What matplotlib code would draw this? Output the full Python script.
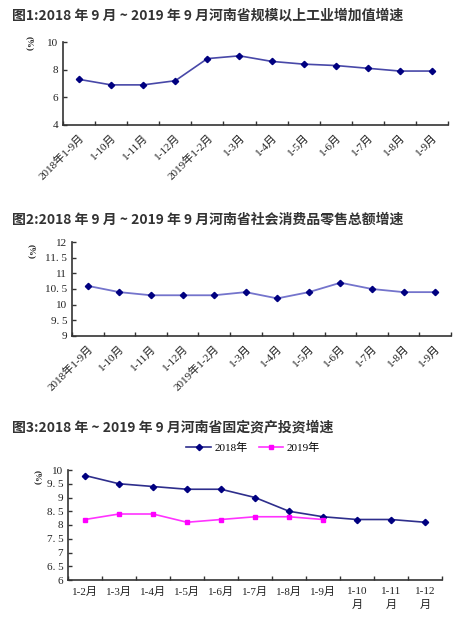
import matplotlib
matplotlib.use("Agg")
import matplotlib.pyplot as plt
from matplotlib.ticker import FixedLocator

# ---- datos ----
meses1 = ["2018年1-9月", "1-10月", "1-11月", "1-12月", "2019年1-2月", "1-3月",
          "1-4月", "1-5月", "1-6月", "1-7月", "1-8月", "1-9月"]
industria = [7.3, 6.9, 6.9, 7.2, 8.8, 9.0, 8.6, 8.4, 8.3, 8.1, 7.9, 7.9]
consumo = [10.6, 10.4, 10.3, 10.3, 10.3, 10.4, 10.2, 10.4, 10.7, 10.5, 10.4, 10.4]

meses3 = ["1-2月", "1-3月", "1-4月", "1-5月", "1-6月", "1-7月", "1-8月", "1-9月",
          "1-10\n月", "1-11\n月", "1-12\n月"]
inversion_2018 = [9.8, 9.5, 9.4, 9.3, 9.3, 9.0, 8.5, 8.3, 8.2, 8.2, 8.1]
inversion_2019 = [8.2, 8.4, 8.4, 8.1, 8.2, 8.3, 8.3, 8.2]

titulos = ["图1:2018 年 9 月 ~ 2019 年 9 月河南省规模以上工业增加值增速",
           "图2:2018 年 9 月 ~ 2019 年 9 月河南省社会消费品零售总额增速",
           "图3:2018 年 ~ 2019 年 9 月河南省固定资产投资增速"]

serif = ["Liberation Serif", "Noto Sans CJK SC"]
sans = ["Noto Sans CJK SC", "DejaVu Sans"]
gris = "#333333"
tam = 8

fig = plt.figure(figsize=(4.59, 6.17), dpi=100)
W, H = 459, 617


def ejes(izq, der, arriba, abajo):
    ax = fig.add_axes([izq / W, 1 - abajo / H, (der - izq) / W, (abajo - arriba) / H])
    for s in ["top", "right"]:
        ax.spines[s].set_visible(False)
    for s in ["left", "bottom"]:
        ax.spines[s].set_color(gris)
        ax.spines[s].set_linewidth(1.2)
    ax.tick_params(direction="in", length=3, width=1, color=gris, labelsize=tam)
    return ax


def categorias(ax, etiquetas, rot):
    n = len(etiquetas)
    ax.set_xlim(-0.5, n - 0.5)
    ax.xaxis.set_major_locator(FixedLocator([i - 0.5 for i in range(n + 1)]))
    ax.set_xticklabels([])
    ax.xaxis.set_minor_locator(FixedLocator(list(range(n))))
    ax.tick_params(axis="x", which="minor", length=0)
    if rot:
        ax.set_xticklabels(etiquetas, minor=True, rotation=45, ha="right",
                           rotation_mode="anchor", family=serif, fontsize=tam,
                           color="#222222")
    else:
        ax.set_xticklabels(etiquetas, minor=True, family=serif, fontsize=tam,
                           va="top", linespacing=1.5, color="#222222")
    ax.tick_params(axis="x", which="minor", pad=5)


def yticks(ax, valores, textos):
    ax.set_ylim(valores[0], valores[-1])
    ax.set_yticks(valores)
    ax.set_yticklabels(textos, family=serif, fontsize=tam, color="#222222")


def titulo(y, texto):
    fig.text(12 / W, 1 - y / H, texto, family=sans, fontsize=10, color=gris,
             va="center", weight="bold")


def unidad(x, y):
    fig.text(x / W, 1 - y / H, "(%)", family=serif, fontsize=6.5, rotation=-90,
             va="center", ha="center", color="#222222", weight="bold")


# ---- grafico 1 ----
ax1 = ejes(63, 448, 42, 125)
x = list(range(len(meses1)))
ax1.plot(x, industria, color="#4848a8", lw=1.2, marker="D", ms=3.2,
         mfc="#000080", mec="#000080")
categorias(ax1, meses1, True)
yticks(ax1, [4, 6, 8, 10], ["4", "6", "8", "10"])
titulo(16, titulos[0])
unidad(29, 44)

# ---- grafico 2 ----
ax2 = ejes(72, 451, 242, 336)
ax2.plot(x, consumo, color="#7474cc", lw=1.3, marker="D", ms=3.2,
         mfc="#000080", mec="#000080")
categorias(ax2, meses1, True)
yticks(ax2, [9, 9.5, 10, 10.5, 11, 11.5, 12],
       ["9", "9. 5", "10", "10. 5", "11", "11. 5", "12"])
titulo(220, titulos[1])
unidad(31, 252)

# ---- grafico 3 ----
ax3 = ejes(68, 442, 470, 580)
x3 = list(range(len(meses3)))
ax3.plot(x3, inversion_2018, color="#2e2e8c", lw=1.2, marker="D", ms=3.2,
         mfc="#000080", mec="#000080", label="2018年")
ax3.plot(x3[:len(inversion_2019)], inversion_2019, color="#ff33ff", lw=1.2,
         marker="s", ms=3.5, mfc="#ff00ff", mec="#ff00ff", label="2019年")
categorias(ax3, meses3, False)
yticks(ax3, [6, 6.5, 7, 7.5, 8, 8.5, 9, 9.5, 10],
       ["6", "6. 5", "7", "7. 5", "8", "8. 5", "9", "9. 5", "10"])
ax3.legend(loc="center", bbox_to_anchor=(253 / W, 1 - 448 / H),
           bbox_transform=fig.transFigure, ncol=2, frameon=False,
           prop={"family": serif, "size": tam}, handlelength=2.2,
           handletextpad=0.3, columnspacing=1.0)
titulo(428, titulos[2])
unidad(37, 478)

plt.savefig("out.png", dpi=100)
